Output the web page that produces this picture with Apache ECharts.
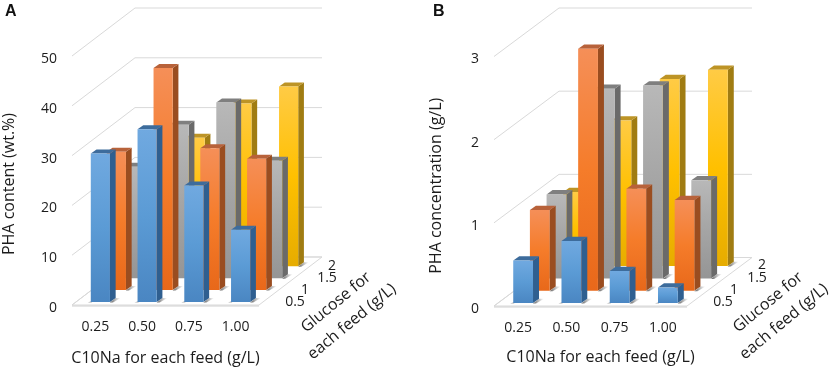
<!DOCTYPE html>
<html><head><meta charset="utf-8">
<style>html,body{margin:0;padding:0;background:#fff}#c{width:829px;height:368px}</style>
<script src="https://cdn.jsdelivr.net/npm/echarts@6/dist/echarts.min.js"></script>
</head><body><div id="c"></div>
<script>
const categories = ['0.25', '0.50', '0.75', '1.00'];
const glucoseLevels = ['0.5', '1', '1.5', '2'];
const ticksA = [0, 10, 20, 30, 40, 50];
const ticksB = [0, 1, 2, 3];
// PHA content (wt.%)
const aGlucose05 = [29.8, 34.7, 23.4, 14.5];
const aGlucose10 = [27.8, 44.6, 28.5, 26.4];
const aGlucose15 = [22.4, 30.8, 35.3, 23.6];
const aGlucose20 = [22.0, 25.8, 32.7, 36.1];
// PHA concentration (g/L)
const bGlucose05 = [0.51, 0.745, 0.385, 0.185];
const bGlucose10 = [0.97, 2.91, 1.226, 1.09];
const bGlucose15 = [1.01, 2.28, 2.32, 1.18];
const bGlucose20 = [0.89, 1.75, 2.25, 2.36];

const palette = [
  {top:'#70a9e0', mid:'#5b9bd5', bot:'#4a86c2', side:'#2f5f90', cap:'#3d6c9c'},
  {top:'#f58f58', mid:'#f57c2a', bot:'#e8681a', side:'#9a4d20', cap:'#b8623a'},
  {top:'#b8b8b8', mid:'#a5a5a5', bot:'#959595', side:'#6a6a6a', cap:'#7f7f7f'},
  {top:'#ffcb45', mid:'#ffc000', bot:'#e6ac00', side:'#a07c12', cap:'#bd9426'}
];
const FONT = '"Open Sans"';
const TEXT = '#1c1c1c';

function panel(idx, cfg, rowsData) {
  const wall = {
    type:'custom', xAxisIndex:idx, yAxisIndex:idx, silent:true, z:1,
    coordinateSystem:'cartesian2d',
    data: cfg.ticks.map(t=>[0,t]),
    encode:{x:0,y:1},
    renderItem(params, api){
      const v = api.value(1);
      const left = api.coord([0, v]);
      const half = api.size([1,0])[0]/2;
      const x0 = left[0]-half, y = left[1];
      const x1 = x0 + half*8;
      const bx = cfg.wallDx, by = cfg.wallDy;
      const line = {stroke:'#d9d9d9', lineWidth:1, fill:null};
      const kids = [{type:'polyline', shape:{points:[[x0,y],[x0+bx,y+by],[x1+bx,y+by]]}, style:line}];
      if (v === 0) {
        kids.unshift({type:'polygon', shape:{points:[[x0,y],[x1,y],[x1+bx,y+by],[x0+bx,y+by]]},
          style:{fill:'#fff', stroke:'#d9d9d9', lineWidth:1}});
        kids.push({type:'line', shape:{x1:x0,y1:y+1,x2:x1,y2:y+1}, style:{stroke:'#cfcfcf', lineWidth:1}});
      }
      return {type:'group', children:kids};
    }
  };
  const bars = rowsData.map((vals, r)=>({r, vals})).reverse().map(({r, vals})=>({
    type:'custom', name:'Glucose '+glucoseLevels[r], xAxisIndex:idx, yAxisIndex:idx, z:2,
    coordinateSystem:'cartesian2d',
    data: vals.map((v,i)=>[i,v]),
    encode:{x:0,y:1},
    renderItem(params, api){
      const c = palette[r];
      const base = api.coord([api.value(0), 0]);
      const top = api.coord([api.value(0), api.value(1)]);
      const w = api.size([1,0])[0]*0.41;
      const ox = cfg.ox + r*cfg.rowDx, oy = cfg.oy + r*cfg.rowDy;
      const x0 = base[0]+ox-w/2, x1 = x0+w, y0 = base[1]+oy, y1 = top[1]+oy;
      const dx = cfg.dx, dy = cfg.dy;
      return {type:'group', children:[
        {type:'polygon', shape:{points:[[x1,y0+0.5],[x1+dx,y0-dy],[x1+dx+5,y0-dy],[x1+3,y0+0.5]]},
          style:{fill:{type:'linear',x:0,y:0,x2:1,y2:0,colorStops:[{offset:0,color:'rgba(60,60,60,0.85)'},{offset:1,color:'rgba(120,120,120,0)'}]}}},
        {type:'polygon', shape:{points:[[x0-3,y0+0.5],[x0+1,y0+0.5],[x0+1,y0-1]]}, style:{fill:'rgba(90,90,90,0.5)'}},
        {type:'polygon', shape:{points:[[x1,y0],[x1,y1],[x1+dx,y1-dy],[x1+dx,y0-dy]]}, style:{fill:c.side}},
        {type:'polygon', shape:{points:[[x0,y1],[x1,y1],[x1+dx,y1-dy],[x0+dx,y1-dy]]}, style:{fill:c.cap}},
        {type:'rect', shape:{x:x0,y:y1,width:w,height:y0-y1},
          style:{fill:{type:'linear',x:0,y:0,x2:0,y2:1,colorStops:[{offset:0,color:c.top},{offset:0.5,color:c.mid},{offset:1,color:c.bot}]}}}
      ]};
    }
  }));
  return [wall].concat(bars);
}

const cfgA = {ticks:ticksA, wallDx:63, wallDy:-48, ox:5, oy:-3, rowDx:16, rowDy:-11.9, dx:5.7, dy:4};
const cfgB = {ticks:ticksB, wallDx:65, wallDy:-48.5, ox:5, oy:-3, rowDx:16.67, rowDy:-12.3, dx:6, dy:4.3};

function xAxis(gridIndex, name, gap, pad){
  return {type:'category', gridIndex, data:categories, boundaryGap:true,
    axisLine:{show:false}, axisTick:{show:false},
    axisLabel:{color:TEXT, fontFamily:FONT, fontSize:14, margin:15, interval:0},
    name, nameLocation:'middle', nameGap:gap,
    nameTextStyle:{color:TEXT, fontFamily:FONT, fontSize:16, padding:pad}};
}
function yAxis(gridIndex, name, ticks, gap, pad){
  return {type:'value', gridIndex, min:ticks[0], max:ticks[ticks.length-1], interval:ticks[1]-ticks[0],
    axisLine:{show:false}, axisTick:{show:false}, splitLine:{show:false},
    axisLabel:{margin:15, formatter:'{t|{value}}',
      rich:{t:{color:TEXT, fontFamily:FONT, fontSize:14, padding:[6,0,0,0]}}},
    name, nameLocation:'middle', nameGap:gap, nameRotate:90,
    nameTextStyle:{color:TEXT, fontFamily:FONT, fontSize:16, padding:pad}};
}
function txt(x,y,text,size){
  return {type:'text', x, y, style:{text, fill:TEXT, font:(size||14)+'px '+FONT, align:'center', verticalAlign:'middle'}};
}
function rotated(x,y){
  return {type:'text', x, y, rotation:0.69, silent:true,
    style:{text:'Glucose for\neach feed (g/L)', fill:TEXT, font:'16px '+FONT, lineHeight:25, align:'center', verticalAlign:'middle'}};
}

const chart = echarts.init(document.getElementById('c'), null, {renderer:'canvas'});
chart.setOption({
  animation:false, backgroundColor:'#fff',
  title:[
    {text:'A', left:0, top:-1, textStyle:{fontFamily:'"Liberation Sans"', fontWeight:'bold', fontSize:16, color:'#111'}},
    {text:'B', left:428, top:-1, textStyle:{fontFamily:'"Liberation Sans"', fontWeight:'bold', fontSize:16, color:'#111'}}
  ],
  grid:[
    {left:72, top:56, width:187, height:249, outerBoundsMode:'none'},
    {left:494, top:56.5, width:193, height:249.5, outerBoundsMode:'none'}
  ],
  xAxis:[xAxis(0,'C10Na for each feed (g/L)',45,[0,0,0,0]), xAxis(1,'C10Na for each feed (g/L)',43,[0,0,0,20])],
  yAxis:[yAxis(0,'PHA content (wt.%)',ticksA,55,[0,7,0,0]), yAxis(1,'PHA concentration (g/L)',ticksB,50,[0,9,0,0])],
  series:[].concat(
    panel(0,cfgA,[aGlucose05,aGlucose10,aGlucose15,aGlucose20]),
    panel(1,cfgB,[bGlucose05,bGlucose10,bGlucose15,bGlucose20])
  ),
  graphic:[
    txt(295,302,glucoseLevels[0]), txt(305,290,glucoseLevels[1]), txt(327,278,glucoseLevels[2]), txt(332,266,glucoseLevels[3]),
    rotated(344,312),
    txt(723,302,glucoseLevels[0]), txt(734,290,glucoseLevels[1]), txt(757,278,glucoseLevels[2]), txt(762,265,glucoseLevels[3]),
    rotated(776,312)
  ]
});
</script></body></html>
